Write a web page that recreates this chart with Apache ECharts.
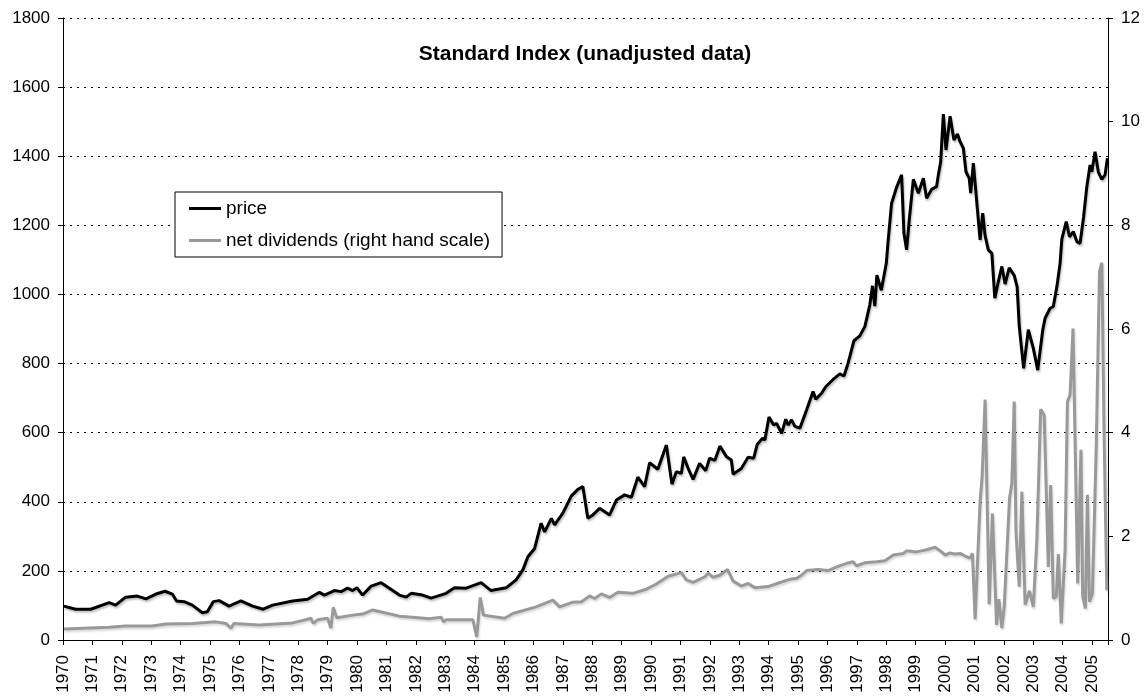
<!DOCTYPE html>
<html>
<head>
<meta charset="utf-8">
<script src="https://cdn.jsdelivr.net/npm/echarts@6/dist/echarts.min.js"></script>
<style>
html,body{margin:0;padding:0;background:#fff;}
#chart{width:1148px;height:696px;}
</style>
</head>
<body>
<div id="chart"></div>
<script>
// ---- data (decimal year, value) ----
const priceDates = [1970.03,1970.43,1970.94,1971.57,1971.79,1972.13,1972.53,1972.82,1973.16,1973.47,1973.72,1973.86,1974.12,1974.40,1974.74,1974.91,1975.11,1975.31,1975.65,1976.05,1976.45,1976.81,1977.13,1977.81,1978.32,1978.72,1978.89,1979.23,1979.46,1979.68,1979.85,1980.00,1980.19,1980.48,1980.82,1981.10,1981.44,1981.67,1981.84,1982.23,1982.52,1983.03,1983.31,1983.71,1984.22,1984.56,1985.07,1985.41,1985.64,1985.81,1986.04,1986.26,1986.38,1986.61,1986.72,1987.00,1987.29,1987.51,1987.68,1987.85,1988.02,1988.25,1988.59,1988.82,1989.10,1989.33,1989.55,1989.78,1989.95,1990.23,1990.52,1990.71,1990.86,1991.03,1991.11,1991.26,1991.43,1991.65,1991.86,1991.99,1992.17,1992.34,1992.57,1992.73,1992.79,1993.07,1993.30,1993.49,1993.61,1993.79,1993.87,1994.01,1994.17,1994.27,1994.44,1994.58,1994.66,1994.78,1994.89,1995.06,1995.29,1995.51,1995.60,1995.80,1995.94,1996.19,1996.42,1996.56,1996.70,1996.90,1997.10,1997.27,1997.44,1997.53,1997.61,1997.68,1997.83,1998.00,1998.06,1998.18,1998.35,1998.52,1998.60,1998.69,1998.78,1998.92,1999.09,1999.26,1999.37,1999.54,1999.71,1999.77,1999.85,1999.94,2000.03,2000.17,2000.30,2000.42,2000.51,2000.62,2000.71,2000.82,2000.87,2000.96,2001.02,2001.19,2001.28,2001.36,2001.47,2001.59,2001.69,2001.81,2001.93,2002.04,2002.18,2002.35,2002.45,2002.52,2002.67,2002.83,2003.00,2003.15,2003.32,2003.40,2003.57,2003.68,2003.80,2003.91,2003.97,2004.12,2004.23,2004.36,2004.48,2004.59,2004.71,2004.82,2004.93,2004.99,2005.10,2005.21,2005.33,2005.44,2005.52];
const priceValues = [98,89,89,108,101,124,127,119,133,141,133,113,111,101,79,82,111,114,98,113,98,89,101,113,118,138,130,143,140,150,143,151,130,156,166,150,130,124,135,130,121,135,151,150,166,143,151,174,203,241,265,338,313,352,333,367,417,436,444,352,362,381,362,405,420,413,471,444,513,494,564,451,487,482,530,497,465,511,490,526,520,561,530,521,480,496,529,526,566,584,579,645,622,627,598,639,622,637,618,613,666,719,697,714,733,754,770,764,801,866,880,907,970,1025,966,1056,1012,1090,1153,1264,1310,1346,1177,1129,1215,1333,1293,1336,1278,1304,1312,1346,1384,1522,1418,1516,1447,1464,1442,1423,1355,1336,1293,1380,1375,1158,1235,1170,1129,1119,989,1037,1081,1030,1077,1055,1022,910,786,898,844,781,897,931,960,965,1022,1090,1160,1211,1167,1182,1153,1148,1225,1312,1375,1355,1413,1355,1333,1346,1394];

const divDates = [1970.03,1971.57,1972.13,1973.03,1973.50,1974.40,1975.20,1975.54,1975.71,1975.82,1976.67,1977.81,1978.32,1978.43,1978.51,1978.66,1979.00,1979.11,1979.19,1979.31,1979.85,1980.19,1980.53,1980.76,1981.44,1981.89,1982.46,1982.86,1982.94,1983.03,1983.94,1984.07,1984.19,1984.30,1985.02,1985.30,1986.09,1986.66,1986.89,1987.34,1987.63,1987.91,1988.08,1988.31,1988.59,1988.87,1989.38,1989.84,1990.18,1990.58,1991.03,1991.20,1991.43,1991.83,1991.94,1992.11,1992.34,1992.60,1992.79,1993.07,1993.30,1993.53,1993.98,1994.38,1994.72,1994.95,1995.12,1995.29,1995.68,1996.02,1996.31,1996.65,1996.87,1996.99,1997.27,1997.67,1997.95,1998.24,1998.58,1998.69,1999.03,1999.37,1999.66,1999.88,2000.00,2000.17,2000.34,2000.51,2000.68,2000.85,2000.93,2001.02,2001.19,2001.26,2001.36,2001.50,2001.61,2001.75,2001.83,2001.93,2002.01,2002.19,2002.27,2002.35,2002.41,2002.52,2002.61,2002.72,2002.87,2003.00,2003.12,2003.25,2003.37,2003.51,2003.59,2003.68,2003.78,2003.85,2003.95,2004.08,2004.16,2004.25,2004.35,2004.51,2004.62,2004.68,2004.77,2004.84,2004.91,2005.01,2005.14,2005.25,2005.33,2005.41,2005.50];
const divValues = [0.21,0.245,0.27,0.27,0.31,0.32,0.35,0.32,0.23,0.32,0.29,0.33,0.40,0.42,0.32,0.39,0.42,0.23,0.63,0.43,0.48,0.50,0.58,0.55,0.46,0.44,0.41,0.44,0.35,0.39,0.39,0.06,0.82,0.48,0.42,0.51,0.64,0.77,0.64,0.73,0.74,0.85,0.80,0.89,0.82,0.92,0.90,0.98,1.08,1.23,1.30,1.16,1.11,1.22,1.29,1.21,1.25,1.36,1.14,1.04,1.09,1.01,1.03,1.11,1.17,1.19,1.25,1.34,1.36,1.34,1.41,1.48,1.51,1.43,1.49,1.51,1.53,1.64,1.67,1.72,1.70,1.74,1.79,1.70,1.64,1.68,1.66,1.67,1.62,1.58,1.67,0.40,2.67,3.15,4.64,0.69,2.44,0.29,0.79,0.23,0.64,2.73,3.02,4.60,2.09,1.03,2.86,0.68,0.95,0.64,1.93,4.45,4.34,1.41,2.99,0.80,0.84,1.66,0.32,1.74,4.60,4.73,6.01,1.09,3.67,0.84,0.61,2.80,0.74,0.90,3.73,7.11,7.28,3.86,0.96];

const xRange = [1970, 2005.54];
const leftTicks = [0, 1800, 200];
const rightTicks = [0, 12, 2];
const titleText = 'Standard Index (unadjusted data)';
const seriesNames = ['price', 'net dividends (right hand scale)'];

// ---- chart ----
const FONT = 'Liberation Sans, Arial, Helvetica, sans-serif';
const chart = echarts.init(document.getElementById('chart'), null, {renderer: 'canvas'});
const zip = (a, b) => a.map((d, i) => [d, b[i]]);

chart.setOption({
  animation: false,
  backgroundColor: '#fff',
  textStyle: {fontFamily: FONT, color: '#000'},
  title: {
    text: titleText,
    left: 585, top: 44, padding: 0,
    textAlign: 'center',
    textStyle: {fontFamily: FONT, fontSize: 21, fontWeight: 'bold', color: '#000'}
  },
  legend: {
    orient: 'vertical',
    left: 175, top: 192,
    padding: [7, 12, 7, 14],
    itemGap: 13,
    itemWidth: 32, itemHeight: 3,
    icon: 'rect',
    borderColor: '#000', borderWidth: 1,
    backgroundColor: '#fff',
    textStyle: {fontFamily: FONT, fontSize: 19, color: '#000', lineHeight: 19},
    data: seriesNames
  },
  grid: {left: 63, right: 40, top: 18, bottom: 56, containLabel: false},
  xAxis: {
    type: 'value',
    min: xRange[0], max: xRange[1], interval: 1,
    axisLine: {show: true, lineStyle: {color: '#000', width: 1}},
    axisTick: {show: true, inside: false, length: 5, lineStyle: {color: '#000'}},
    axisLabel: {
      rotate: 90, fontSize: 17, fontFamily: FONT, color: '#000', margin: 15,
      formatter: v => (Math.abs(v - Math.round(v)) < 1e-6 ? String(Math.round(v)) : '')
    },
    splitLine: {show: false}
  },
  yAxis: [{
    type: 'value',
    min: leftTicks[0], max: leftTicks[1], interval: leftTicks[2],
    axisLine: {show: true, lineStyle: {color: '#000', width: 1}},
    axisTick: {show: true, inside: false, length: 5, lineStyle: {color: '#000'}},
    axisLabel: {fontSize: 17, fontFamily: FONT, color: '#000', margin: 13, formatter: v => String(v)},
    splitLine: {show: true, lineStyle: {color: '#000', width: 1, type: [2, 5]}}
  }, {
    type: 'value',
    position: 'right',
    min: rightTicks[0], max: rightTicks[1], interval: rightTicks[2],
    axisLine: {show: true, lineStyle: {color: '#000', width: 1}},
    axisTick: {show: true, inside: false, length: 5, lineStyle: {color: '#000'}},
    axisLabel: {fontSize: 17, fontFamily: FONT, color: '#000', margin: 13, formatter: v => String(v)},
    splitLine: {show: false}
  }],
  series: [{
    name: seriesNames[1],
    type: 'line',
    yAxisIndex: 1,
    data: zip(divDates, divValues),
    showSymbol: false,
    color: '#999999',
    lineStyle: {color: '#999999', width: 3, shadowColor: 'rgba(0,0,0,0.15)', shadowOffsetX: 1, shadowOffsetY: 2, shadowBlur: 2},
    z: 2
  }, {
    name: seriesNames[0],
    type: 'line',
    yAxisIndex: 0,
    data: zip(priceDates, priceValues),
    showSymbol: false,
    color: '#000000',
    lineStyle: {color: '#000000', width: 3, shadowColor: 'rgba(0,0,0,0.25)', shadowOffsetX: 1, shadowOffsetY: 2, shadowBlur: 2},
    z: 3
  }]
});
</script>
</body>
</html>
